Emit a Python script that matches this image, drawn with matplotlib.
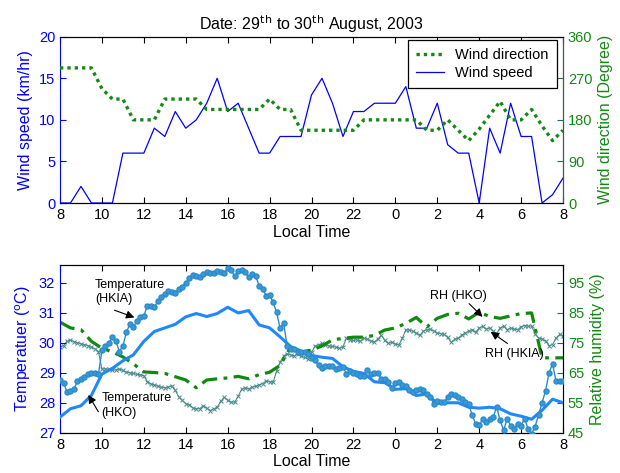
import numpy as np
import matplotlib.pyplot as plt

plt.rcParams['font.family'] = ['Liberation Sans', 'DejaVu Sans']
plt.rcParams['xtick.direction'] = 'in'
plt.rcParams['ytick.direction'] = 'in'

# x axis: hours from 08:00 on 29th to 08:00 on 30th
hour_ticks = np.arange(8, 33, 2)
hour_labels = ['8', '10', '12', '14', '16', '18', '20', '22', '0', '2', '4', '6', '8']

# half-hourly wind data
wind_speed = [0, 0, 2, 0, 0, 0, 6, 6, 6, 9, 8, 11, 9, 10, 12, 15, 11, 12, 9, 6,
              6, 8, 8, 8, 13, 15, 12, 8, 11, 11, 12, 12, 12, 14, 9, 9, 12, 7, 6, 6,
              0, 9, 6, 12, 8, 8, 0, 1, 3]
wind_dir = [292.5, 292.5, 292.5, 292.5, 247.5, 225, 225, 180, 180, 180, 225, 225, 225, 225,
            202.5, 202.5, 202.5, 202.5, 202.5, 202.5, 225, 202.5, 202.5, 157.5, 157.5, 157.5,
            157.5, 157.5, 157.5, 180, 180, 180, 180, 180, 180, 157.5, 157.5, 180, 157.5, 135,
            160, 190, 220, 180, 180, 202.5, 167, 135, 157.5]

# half-hourly HKO data
hko_temp = [27.52, 27.8, 27.9, 28.25, 28.96, 29.15, 29.4, 29.6, 30.05, 30.38, 30.5, 30.62,
            30.87, 30.98, 30.88, 30.98, 31.19, 31.0, 31.08, 30.6, 30.5, 30.2, 29.88, 29.7,
            29.58, 29.52, 29.48, 29.2, 29.05, 28.98, 28.7, 28.67, 28.45, 28.47, 28.24, 28.3,
            27.97, 28.0, 28.0, 27.85, 27.82, 27.85, 27.8, 27.63, 27.55, 27.45, 27.75, 28.12, 28.0]
hko_rh = [81.9, 80.0, 79.4, 75.5, 73.2, 72.0, 70.3, 68.0, 65.3, 65.1, 64.8, 63.7, 62.6,
          60.0, 62.6, 63.0, 63.3, 63.8, 63.0, 64.4, 65.2, 67.5, 73.5, 72.3, 72.5, 74.0,
          76.0, 76.5, 76.9, 76.9, 77.5, 79.3, 80.0, 81.5, 83.5, 80.3, 83.2, 84.5, 84.9,
          83.0, 85.2, 83.8, 83.2, 84.0, 84.8, 85.0, 70.0, 70.0, 70.0]

# 10-minute HKIA data
hkia_temp = [28.75, 28.67, 28.36, 28.4, 28.46, 28.72, 28.78, 28.85, 28.96, 29.0, 29.0, 28.96,
             29.75, 29.9, 30.0, 30.2, 30.05, 29.71, 29.9, 30.35, 30.63, 30.52, 30.74, 30.86,
             30.9, 31.24, 31.22, 31.19, 31.4, 31.52, 31.63, 31.72, 31.69, 31.68, 31.8, 31.88,
             32.0, 32.15, 32.27, 32.22, 32.19, 32.3, 32.36, 32.35, 32.33, 32.41, 32.38, 32.33,
             32.49, 32.43, 32.22, 32.41, 32.44, 32.38, 32.19, 32.3, 32.24, 31.91, 31.8, 31.58,
             31.6, 31.36, 31.02, 30.49, 30.67, 29.91, 29.8, 29.78, 29.71, 29.7, 29.69, 29.63,
             29.5, 29.42, 29.25, 29.16, 29.24, 29.22, 29.24, 29.13, 29.16, 29.2, 28.97, 29.06,
             29.0, 28.95, 28.88, 28.9, 29.1, 28.97, 29.0, 29.0, 28.78, 28.8, 28.7, 28.5,
             28.65, 28.69, 28.6, 28.56, 28.42, 28.36, 28.41, 28.47, 28.41, 28.3, 28.19, 27.97,
             28.05, 28.03, 28.02, 28.18, 28.29, 28.25, 28.18, 28.12, 28.02, 27.96, 27.58, 27.3,
             27.25, 27.45, 27.36, 27.45, 27.52, 27.86, 27.41, 27.08, 27.47, 27.24, 27.13, 27.3,
             27.24, 27.47, 27.13, 26.97, 27.2, 27.6, 28.0, 28.4, 29.0, 29.3, 28.72, 28.72, 28.72]
hkia_rh = [73.6, 74.0, 75.5, 76.0, 75.4, 75.0, 74.7, 74.4, 74.1, 73.6, 73.0, 72.1,
           66.3, 66.3, 66.2, 65.8, 66.0, 66.3, 65.8, 65.2, 65.0, 64.8, 64.5, 64.3,
           64.0, 62.0, 61.3, 61.0, 60.5, 60.2, 60.0, 60.3, 60.6, 59.1, 57.0, 55.8,
           54.7, 54.4, 53.3, 53.0, 53.0, 54.0, 53.2, 52.4, 53.0, 53.5, 55.5, 56.8,
           55.8, 55.2, 55.2, 57.2, 59.5, 60.0, 59.6, 60.2, 60.5, 61.0, 61.4, 62.3,
           62.0, 61.8, 65.5, 68.5, 70.6, 71.4, 71.0, 70.6, 71.3, 70.5, 70.2, 69.7,
           71.8, 73.9, 74.4, 74.8, 74.4, 73.9, 73.8, 73.6, 73.2, 73.6, 76.6, 76.0,
           75.8, 76.0, 75.5, 76.6, 76.2, 75.6, 75.3, 76.3, 77.5, 75.8, 74.8, 75.2,
           74.6, 74.3, 76.5, 79.4, 79.3, 78.9, 78.3, 77.5, 78.9, 79.4, 79.6, 79.0,
           78.3, 78.1, 77.8, 76.8, 75.2, 76.2, 76.6, 77.6, 78.3, 78.9, 79.4, 78.5,
           80.0, 80.5, 79.6, 80.0, 78.9, 78.1, 80.0, 80.5, 79.4, 80.0, 79.6, 79.4,
           80.4, 80.8, 80.6, 80.6, 78.0, 76.6, 76.3, 75.6, 74.1, 74.4, 76.6, 77.8, 77.2]

t_half = 8 + 0.5 * np.arange(len(wind_speed))
t_10 = 8 + np.arange(len(hkia_temp)) / 6

BLUE = '#0000ff'
GREEN = '#138a13'
DARK = '#2f6060'


def style_axes(ax, ax2, lcolor, rcolor):
    ax.set_xlim(8, 32)
    ax.set_xticks(hour_ticks)
    ax.set_xticklabels(hour_labels)
    ax.tick_params(axis='x', top=True, labelsize=10.5, length=4)
    ax.tick_params(axis='y', colors=lcolor, labelsize=10.5, length=4)
    ax.spines['left'].set_color(lcolor)
    ax2.tick_params(axis='y', colors=DARK, labelcolor=rcolor, labelsize=10.5, length=4)
    ax2.spines['right'].set_color(DARK)
    ax2.spines['left'].set_visible(False)
    ax.set_xlabel('Local Time', fontsize=11.5, labelpad=2)


def arrow_note(ax, text, tail, head, xy, ha='left'):
    ax.text(xy[0], xy[1], text, fontsize=9, ha=ha, va='center', linespacing=1.3)
    ax.annotate('', xy=head, xytext=tail,
                arrowprops=dict(arrowstyle='-|>', color='black', lw=0.8,
                                mutation_scale=12, shrinkA=0, shrinkB=0))


fig = plt.figure(figsize=(6.2, 4.73), dpi=100)

# top: wind
ax1 = fig.add_axes([0.0968, 0.5708, 0.8113, 0.3516])
ax1b = ax1.twinx()
l_spd, = ax1.plot(t_half, wind_speed, color=BLUE, lw=0.9, label='Wind speed')
l_dir, = ax1b.plot(t_half, wind_dir, color=GREEN, lw=2.4, ls=(0, (1, 1.2)), label='Wind direction')
ax1.set_ylim(0, 20)
ax1.set_yticks([0, 5, 10, 15, 20])
ax1b.set_ylim(0, 360)
ax1b.set_yticks([0, 90, 180, 270, 360])
style_axes(ax1, ax1b, BLUE, GREEN)
ax1.set_ylabel('Wind speed (km/hr)', color=BLUE, fontsize=11.5, labelpad=4)
ax1b.set_ylabel('Wind direction (Degree)', color=GREEN, fontsize=11.5, labelpad=4)
ax1.set_title('Date: 29$^{\\mathrm{th}}$ to 30$^{\\mathrm{th}}$ August, 2003', fontsize=11.5, pad=5)
leg = ax1b.legend([l_dir, l_spd], ['Wind direction', 'Wind speed'], loc='upper right',
                  bbox_to_anchor=(0.9875, 0.978), borderaxespad=0, fontsize=10.5,
                  handlelength=1.9, handletextpad=0.8, fancybox=False, framealpha=1,
                  edgecolor='black', borderpad=0.55, labelspacing=0.25)
leg.get_frame().set_linewidth(0.9)

# bottom: temperature and RH
ax2 = fig.add_axes([0.0968, 0.0852, 0.8113, 0.3545])
ax2b = ax2.twinx()
ax2.plot(t_half, hko_temp, color='#1e88ff', lw=2.2, zorder=3)
ax2.plot(t_10, hkia_temp, color='#2a8ccc', lw=1.0, marker='o', ms=3.6,
         mec='#2a8ccc', mfc='#3a9ad8', zorder=3)
ax2b.plot(t_10, hkia_rh, color='#4a8c8c', lw=0.8, marker='x', ms=2.8, mew=0.7)
ax2b.plot(t_half, hko_rh, color='#0f8a0f', lw=2.3, dashes=(5, 2, 1.2, 2))
ax2.set_ylim(27, 32.6)
ax2.set_yticks([27, 28, 29, 30, 31, 32])
ax2b.set_ylim(45, 101)
ax2b.set_yticks([45, 55, 65, 75, 85, 95])
ax2.set_zorder(ax2b.get_zorder() + 1)
ax2.patch.set_visible(False)
style_axes(ax2, ax2b, BLUE, GREEN)
ax2.set_ylabel('Temperatuer ($^{\\mathrm{o}}$C)', color=BLUE, fontsize=11.5, labelpad=4)
ax2b.set_ylabel('Relative humidity (%)', color=GREEN, fontsize=11.5, labelpad=4)

arrow_note(ax2, 'Temperature\n(HKIA)', (10.6, 31.09), (11.55, 30.85), (9.67, 31.7))
arrow_note(ax2, 'Temperature\n(HKO)', (9.83, 27.7), (9.35, 28.26), (9.99, 27.91))
arrow_note(ax2b, 'RH (HKO)', (27.52, 88.1), (28.16, 83.7), (27.03, 90.6), ha='center')
arrow_note(ax2b, 'RH (HKIA)', (29.35, 74.8), (28.55, 78.7), (29.7, 71.2), ha='center')

fig.savefig('out.png', dpi=100)
